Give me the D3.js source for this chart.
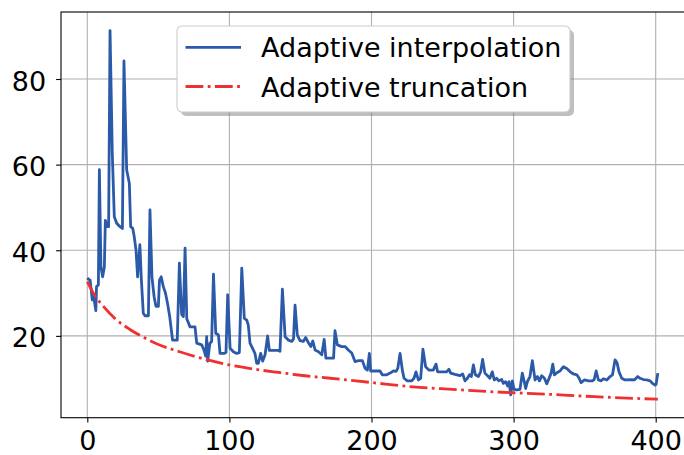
<!DOCTYPE html>
<meta charset="utf-8">
<script src="https://d3js.org/d3.v7.min.js"></script>
<style>
  body { margin: 0; background: #fff; }
  svg { font-family: "DejaVu Sans", sans-serif; display: block; }
</style>
<div id="chart"></div>
<script>
// values
const interpX = [0, 1, 2, 3.5, 4.5, 6, 6.5, 7.8, 8.5, 9.6, 10.8, 12, 12.7, 14, 15, 16, 17.6, 19, 20.7, 23, 24.7, 25.8, 27.7, 29.6, 30.5, 32, 33, 34.3, 35.4, 37, 38, 39.4, 40.6, 43, 44.1,
  45.5, 47, 48.3, 50, 50.8, 52, 53.5, 55, 56.5, 58, 60, 63.3, 64.8, 66.4, 67.6, 68.8, 70, 72.3, 75.8, 77, 80.5, 82.1, 83.3, 84, 84.7, 86.3, 87.5, 88.8, 90.4, 92.3, 93.4, 96.2, 97.6, 98.8,
  100.5, 102.8, 105.1, 107, 108.7, 110.5, 112.2, 113.3, 114.5, 115.7, 118, 119.2, 120.4, 122, 123.4, 125.1, 126.9, 128.1, 134.4, 135.6, 137.3, 139.2, 141.6, 143.9, 145.1, 146.2, 147.8, 149.7,
  152, 153.7, 155.6, 157.3, 158.7, 160.3, 162.7, 165, 166.7, 167.9, 173.3, 174.3, 176, 179, 181.4, 183.7, 186.1, 188.4, 190.8, 193.6, 195.5, 197.1, 198.5, 199.4,
  206, 207.6, 210.7, 213.1, 215.4, 217.3, 218.5, 220.1, 221.7, 222.9, 225.2, 228.3, 229.9, 231.3, 233, 234.6, 236.2, 238.1, 240.4, 243.5, 245.4, 246.5, 252.9, 254.5, 255.7, 258.8,
  262.3, 264.2, 265.8, 267.5, 268.9, 270.3, 271.7, 273.1, 275.2, 276.8, 278.2, 279.8, 282.2, 283.3, 285, 286.4, 288, 289.6, 291.6, 292.8, 294.4, 295.8, 296.8, 298, 299.1,
  300.3, 302.2, 304.5, 306.1, 307.5, 308.5, 309.7, 311.5, 313.2, 315.1, 316.8, 318.2, 319.8, 321.7, 323.3, 325, 326.4, 327.6, 328.7, 330.4, 332.7, 335.1, 337.4, 339.8, 342.1, 344.5, 346.1, 347.5, 349.9,
  352.7, 355.5, 356.7, 358.1, 359.7, 361.6, 363.2, 365.6, 367.9, 369.6, 371.4, 372.8, 374.2, 376.1, 378.4, 383.1, 385, 387.4, 389, 391.4, 393.7, 396.1, 397.7, 399.6, 400.3, 401.5];
const interpY = [33.5, 33.2, 33.0, 28.4, 29.2, 25.9, 31.5, 31.9, 58.8, 36.1, 33.8, 36.1, 47, 45.5, 45.5, 91.3, 62.6, 47.8, 46.3, 45.5, 45.1, 84.2, 58.8, 55.6, 45.5, 45.1, 43.2, 40.0, 33.8, 41.3, 33.4, 25.3, 24.7, 24.7, 49.4,
  33.8, 29.2, 26.9, 26.9, 33.0, 33.8, 31.5, 30.0, 27.5, 24.5, 19.0, 19.0, 37.0, 25.0, 24.5, 40.5, 24.0, 22.1, 22.1, 18.3, 17.9, 16.7, 15.3, 19.8, 14.1, 18.3, 18.7, 34.4, 20.6, 20.2, 15.9, 15.9, 16.1, 29.6,
  17.1, 16.3, 15.9, 16.1, 35.8, 24.1, 23.7, 22.5, 18.3, 17.5, 15.9, 13.6, 13.6, 15.9, 14.1, 15.6, 20.0, 16.6, 16.6, 16.4, 30.9, 19.8, 19.0, 18.7, 19.3, 27.2, 20.2, 18.9,
  18.7, 19.6, 18.4, 17.5, 18.8, 16.7, 16.3, 15.6, 19.2, 14.8, 14.8, 21.2, 17.9, 17.5, 17.5, 16.7, 16.0, 14.0, 14.2, 14.2, 12.4, 12.0, 15.9, 11.8,
  11.8, 10.9, 10.9, 11.3, 11.8, 11.7, 12.4, 15.9, 12.0, 10.1, 9.5, 9.5, 10.1, 11.6, 9.7, 10.1, 16.9, 12.8, 12.0, 12.0, 13.4, 11.6, 11.6, 12.2, 11.3, 11.0,
  10.7, 11.1, 9.5, 10.1, 10.9, 10.5, 13.2, 10.9, 10.5, 11.6, 14.5, 11.3, 10.5, 10.1, 11.6, 9.7, 10.1, 9.5, 9.8, 8.9, 9.3, 8.3, 9.3, 6.2, 9.5,
  7.5, 7.4, 7.5, 11.3, 9.3, 7.7, 9.3, 10.5, 14.2, 9.7, 10.5, 9.5, 10.7, 10.1, 8.8, 10.1, 11.3, 13.4, 10.9, 11.4, 11.8, 12.8, 12.4, 11.6, 11.1, 10.9, 10.1, 9.1, 9.7,
  9.5, 9.5, 9.8, 11.8, 9.7, 9.5, 10.0, 9.7, 10.5, 10.9, 14.4, 13.7, 11.6, 10.1, 9.7, 9.8, 9.7, 10.5, 10.1, 9.8, 9.7, 9.5, 8.9, 8.5, 8.7, 11.3];

const truncX = [0, 5, 10, 20, 30, 40, 50, 65, 80, 100, 120, 136, 150, 171, 200, 229, 257, 288, 322, 357, 401.5];
const truncY = [32.7, 29.6, 27.4, 23.9, 21.5, 19.6, 18.0, 16.3, 14.8, 13.2, 12.1, 11.4, 10.8, 10.1, 9.1, 8.1, 7.5, 6.9, 6.4, 5.8, 5.2];

const xTicks = [0, 100, 200, 300, 400];
const yTicks = [20, 40, 60, 80];
const seriesNames = ["Adaptive interpolation", "Adaptive truncation"];

const W = 684, H = 455;
const box = {left: 61, top: 12, right: 686, bottom: 417.7};

const svg = d3.select("#chart").append("svg")
  .attr("width", W).attr("height", H);

const x = d3.scaleLinear().domain([0, 400]).range([87.3, 655.7]);
const y = d3.scaleLinear().domain([0, 80]).range([421.5, 79]);

// grid
const grid = svg.append("g").attr("stroke", "#b0b0b0").attr("stroke-width", 1.1);
grid.selectAll(".gx").data(xTicks).join("line")
  .attr("x1", d => x(d)).attr("x2", d => x(d))
  .attr("y1", box.top).attr("y2", box.bottom);
grid.selectAll(".gy").data(yTicks).join("line")
  .attr("x1", box.left).attr("x2", box.right)
  .attr("y1", d => y(d)).attr("y2", d => y(d));

// lines
const clip = svg.append("clipPath").attr("id", "clip").append("rect")
  .attr("x", box.left).attr("y", box.top)
  .attr("width", box.right - box.left).attr("height", box.bottom - box.top);

const line = d3.line().x(d => x(d[0])).y(d => y(d[1]));

svg.append("path")
  .datum(interpX.map((v, i) => [v, interpY[i]]))
  .attr("clip-path", "url(#clip)")
  .attr("fill", "none")
  .attr("stroke", "#2a5aa8")
  .attr("stroke-width", 2.8)
  .attr("stroke-linejoin", "round")
  .attr("d", line);

svg.append("path")
  .datum(truncX.map((v, i) => [v, truncY[i]]))
  .attr("clip-path", "url(#clip)")
  .attr("fill", "none")
  .attr("stroke", "#f03030")
  .attr("stroke-width", 2.8)
  .attr("stroke-dasharray", "17.8,4.4,2.8,4.4")
  .attr("d", line.curve(d3.curveMonotoneX));

// axes
const xAxis = svg.append("g")
  .attr("transform", `translate(0,${box.bottom})`)
  .call(d3.axisBottom(x).tickValues(xTicks).tickSize(4.9).tickPadding(4));
const yAxis = svg.append("g")
  .attr("transform", `translate(${box.left},0)`)
  .call(d3.axisLeft(y).tickValues(yTicks).tickSize(4.9).tickPadding(10));

[xAxis, yAxis].forEach(g => {
  g.select(".domain").remove();
  g.selectAll(".tick line").attr("stroke", "#000").attr("stroke-width", 1.1);
  g.selectAll(".tick text")
    .attr("fill", "#000")
    .style("font-family", "DejaVu Sans")
    .style("font-size", "27px");
});
xAxis.selectAll(".tick text").attr("dy", null).attr("y", 32);
yAxis.selectAll(".tick text").attr("dy", "0.41em");

// spines
svg.append("rect")
  .attr("x", box.left).attr("y", box.top)
  .attr("width", box.right - box.left).attr("height", box.bottom - box.top)
  .attr("fill", "none").attr("stroke", "#000").attr("stroke-width", 1.1);

// legend
const lg = svg.append("g");
lg.append("rect")
  .attr("x", 181).attr("y", 30).attr("width", 393).attr("height", 86).attr("rx", 5)
  .attr("fill", "#808080").attr("opacity", 0.5);
lg.append("rect")
  .attr("x", 177).attr("y", 26).attr("width", 393).attr("height", 86).attr("rx", 5)
  .attr("fill", "#fff").attr("stroke", "#cccccc").attr("stroke-width", 1.1);

const legendRows = [
  {name: seriesNames[0], color: "#2a5aa8", dash: null, y: 47.3},
  {name: seriesNames[1], color: "#f03030", dash: "17.8,4.4,2.8,4.4", y: 86.5}
];
legendRows.forEach(r => {
  lg.append("line")
    .attr("x1", 185.5).attr("x2", 241).attr("y1", r.y).attr("y2", r.y)
    .attr("stroke", r.color).attr("stroke-width", 2.8)
    .attr("stroke-dasharray", r.dash);
  lg.append("text")
    .attr("x", 261).attr("y", r.y + 10)
    .style("font-size", "27px")
    .attr("fill", "#000")
    .text(r.name);
});
</script>
